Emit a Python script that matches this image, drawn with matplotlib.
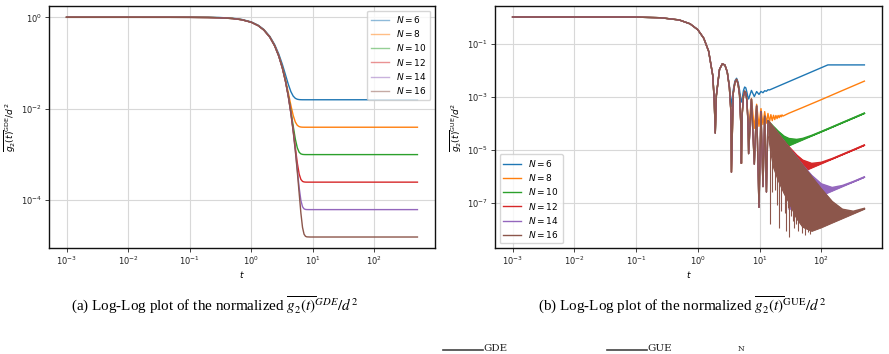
import numpy as np
import matplotlib
matplotlib.use("Agg")
import matplotlib.pyplot as plt
from matplotlib.lines import Line2D
from matplotlib.ticker import NullLocator

sizes = [6, 8, 10, 12, 14, 16]
colors = ["C0", "C1", "C2", "C3", "C4", "C5"]

# ---------- (a) GDE: common early decay, then a plateau for each N ----------
t_gde = [1e-3, 1e-2, 0.05, 0.1, 0.2, 0.3, 0.5, 0.7, 1.0, 1.3, 1.6, 2.0, 2.4, 2.8,
         3.2, 3.6, 4.0, 4.4, 4.8, 5.2, 5.6, 6.0, 6.4, 6.8, 7.2, 7.6, 8.0, 9.0,
         10.0, 20.0, 50.0, 100.0, 200.0, 500.0]
gde_decay = [1.0, 1.0, 0.9994, 0.9975, 0.990, 0.978, 0.939, 0.885, 0.779, 0.655,
             0.527, 0.368, 0.237, 0.141, 0.0773, 0.0392, 0.0183, 0.0079, 0.00315,
             0.00116, 3.94e-4, 1.23e-4, 3.57e-5, 9.6e-6, 2.35e-6, 5.4e-7, 1.1e-7,
             1.6e-9, 0, 0, 0, 0, 0, 0]
gde_plateau = [1.56e-2, 3.9e-3, 9.8e-4, 2.44e-4, 6.1e-5, 1.53e-5]

t_gue = [1e-3, 0.01, 0.05, 0.1, 0.25, 0.5, 0.75, 1.0, 1.25, 1.5, 1.75, 1.85, 1.92,
         2.0, 2.25, 2.5, 2.75, 3.0, 3.25, 3.45, 3.51, 3.75, 4.0, 4.25, 4.5, 4.75,
         5.0, 5.09, 5.25, 5.5, 5.75, 6.0, 6.25, 6.5, 6.66, 7.40, 8.24, 8.98, 9.81,
         10.56, 11.38, 12.13, 12.95, 13.71]
gue_shared = [1.0, 1.0, 0.9975, 0.990, 0.9394, 0.7748, 0.5534, 0.3326, 0.1582,
              0.0511, 0.00616, 6.8e-4, 4.2e-5, 1.09e-3, 0.01055, 0.01717, 0.0154,
              8.5e-3, 2.24e-3, 2.5e-4, 1.4e-6, 1.3e-3, 3.44e-3, 4.4e-3, 2.97e-3,
              1.15e-3, 7.6e-5, 3e-6, 2.26e-4, 1.03e-3, 1.58e-3, 1.39e-3, 7.0e-4,
              1.17e-4, 7e-6, 7.9e-4, 2.8e-6, 4.4e-4, 6.6e-8, 2.7e-4, 4e-7, 1.8e-4,
              2.5e-7, 1.24e-4]
# last shared time before each curve leaves the N=16 curve
gue_split = [3.0, 6.5, 13.71, 13.71, 13.71, 13.71]

# own parts of the curves
blue_t = [3.25, 3.45, 3.51, 3.75, 4.0, 4.25, 4.5, 4.75, 5.0, 5.09, 5.25, 5.5, 5.75,
          6.0, 6.25, 6.5, 6.66, 7.40, 8.24, 8.98, 9.81, 10.56, 11.38, 12.13, 12.95,
          13.71, 14.52, 20.0, 50.0, 128.0, 500.0]
blue_g = [2.6e-3, 6.7e-4, 4.3e-4, 1.76e-3, 3.9e-3, 4.9e-3, 3.5e-3, 1.73e-3, 6.9e-4,
          6.2e-4, 8.6e-4, 1.7e-3, 2.28e-3, 2.12e-3, 1.46e-3, 9.1e-4, 8.1e-4, 1.7e-3,
          1.0e-3, 1.54e-3, 1.2e-3, 1.56e-3, 1.39e-3, 1.66e-3, 1.58e-3, 1.8e-3,
          1.77e-3, 2.44e-3, 6.1e-3, 1.56e-2, 1.56e-2]
orange_t = [6.66, 7.40, 8.24, 8.98, 9.81, 10.56, 11.38, 12.13, 12.95, 13.71, 14.52,
            15.28, 16.09, 16.86, 17.67, 18.43, 19.24, 20.0, 20.81, 21.58, 22.38,
            23.15, 23.95, 30.0, 50.0, 100.0, 200.0, 500.0]
orange_g = [5.1e-5, 8.5e-4, 6.3e-5, 5.1e-4, 7.5e-5, 3.5e-4, 8.7e-5, 2.7e-4, 9.9e-5,
            2.3e-4, 1.11e-4, 2.07e-4, 1.23e-4, 1.96e-4, 1.35e-4, 1.92e-4, 1.47e-4,
            1.93e-4, 1.59e-4, 1.97e-4, 1.71e-4, 2.03e-4, 1.83e-4, 2.35e-4, 3.85e-4,
            7.6e-4, 1.53e-3, 3.81e-3]

# dense oscillation region drawn as filled bands (top / bottom edge)
green_band_t = [17, 20, 25, 30, 40, 50, 70, 100, 150, 220, 330, 500]
green_hi = [7.3e-5, 4.95e-5, 3.19e-5, 2.61e-5, 2.41e-5, 2.63e-5, 3.43e-5, 4.80e-5,
            7.16e-5, 1.05e-4, 1.57e-4, 2.38e-4]
green_lo = [8.1e-6, 9.5e-6, 1.19e-5, 1.43e-5, 1.91e-5, 2.38e-5, 3.34e-5, 4.77e-5,
            7.15e-5, 1.05e-4, 1.57e-4, 2.38e-4]
red_band_t = [25, 30, 40, 50, 70, 100, 150, 220, 330, 500]
red_hi = [2.07e-5, 1.27e-5, 6.2e-6, 4.0e-6, 3.0e-6, 3.3e-6, 4.56e-6, 6.6e-6, 9.8e-6,
          1.49e-5]
red_lo = [7.5e-7, 8.9e-7, 1.19e-6, 1.49e-6, 2.09e-6, 2.98e-6, 4.47e-6, 6.56e-6,
          9.83e-6, 1.49e-5]
purple_band_t = [30, 40, 50, 70, 100, 150, 220, 330, 500]
purple_hi = [1.19e-5, 5.07e-6, 2.6e-6, 1.06e-6, 5.1e-7, 3.7e-7, 4.4e-7, 6.2e-7, 9.3e-7]
purple_lo = [5.6e-8, 7.5e-8, 9.3e-8, 1.3e-7, 1.86e-7, 2.79e-7, 4.1e-7, 6.15e-7, 9.3e-7]
brown_band_t = [14, 15.5, 17, 20, 25, 30, 40, 50, 70, 100, 150, 220, 330, 500]
brown_hi = [1.16e-4, 8.6e-5, 6.5e-5, 4.0e-5, 2.0e-5, 1.18e-5, 5.0e-6, 2.55e-6, 9.4e-7,
            3.3e-7, 1.1e-7, 5.6e-8, 4.7e-8, 6.05e-8]
brown_lo = [3e-5, 6e-6, 2e-6, 7e-7, 2.2e-7, 1e-7, 2.5e-8, 1.2e-8, 8.5e-9, 1.16e-8,
            1.75e-8, 2.56e-8, 3.84e-8, 5.82e-8]

# deep single dips of the N=16 curve below the dense band
spike_t = [14.52, 16.09, 17.67, 19.24, 20.81, 22.38, 25.52, 27.09, 28.66, 30.23,
           31.81, 34.95, 36.52, 39.66, 42.80, 47.9, 54.2, 60.5, 66.8]
spike_lo = [1.6e-8, 2.5e-7, 3e-7, 8e-8, 1.1e-8, 5e-8, 4e-8, 8.7e-9, 6e-8, 5e-9,
            3e-8, 2e-8, 1.1e-8, 1.5e-8, 8.7e-9, 7e-9, 6e-9, 8e-9, 6.5e-9]
spike_hi = [1.6e-5, 4.5e-6, 1.6e-6, 9e-7, 5.5e-7, 4e-7, 2.5e-7, 1.8e-7, 1.3e-7, 1e-7,
            8e-8, 5e-8, 4e-8, 3e-8, 2.8e-8, 2e-8, 1.3e-8, 1.1e-8, 1e-8]


def style_axes(ax, ylabel, yticks):
    ax.set_xscale("log")
    ax.set_yscale("log")
    ax.set_xticks([1e-3, 1e-2, 1e-1, 1e0, 1e1, 1e2])
    ax.set_yticks(yticks)
    ax.xaxis.set_minor_locator(NullLocator())
    ax.yaxis.set_minor_locator(NullLocator())
    ax.grid(True, color="#d8d8d8", lw=0.8)
    ax.set_axisbelow(True)
    ax.tick_params(labelsize=6, length=3, width=0.6, pad=2, colors="#222222")
    for s in ax.spines.values():
        s.set_linewidth(1.0)
        s.set_color("#111111")
    ax.set_xlabel("$t$", fontsize=6.5, labelpad=1)
    ax.set_ylabel(ylabel, fontsize=6.5, labelpad=2)


fig = plt.figure(figsize=(8.89, 3.54), dpi=100)
ax1 = fig.add_axes([0.0551, 0.2994, 0.4342, 0.6836])
ax2 = fig.add_axes([0.5568, 0.2994, 0.4353, 0.6836])

# (a)
decay = np.array(gde_decay)
for n, c, p in zip(sizes, colors, gde_plateau):
    ax1.plot(t_gde, decay + p, color=c, lw=1.0, label=f"$N = {n}$")
style_axes(ax1, r"$\overline{g_2(t)}^{\mathrm{GDE}}/d^2$", [1e0, 1e-2, 1e-4])
leg1 = ax1.legend(loc="upper right", fontsize=6.5, handlelength=2.0,
                  borderpad=0.4, labelspacing=0.35, edgecolor="#cccccc")
for h in leg1.legend_handles:
    h.set_alpha(0.5)

# (b)
t_gue_a = np.array(t_gue)
g_gue_a = np.array(gue_shared)
tails = [
    (blue_t, blue_g, None),
    (orange_t, orange_g, None),
    (green_band_t, green_hi, (green_band_t, green_lo, green_hi)),
    (red_band_t, red_hi, (red_band_t, red_lo, red_hi)),
    (purple_band_t, purple_hi, (purple_band_t, purple_lo, purple_hi)),
    (brown_band_t, brown_hi, (brown_band_t, brown_lo, brown_hi)),
]
for i, (n, c) in enumerate(zip(sizes, colors)):
    z = 2 + i
    keep = t_gue_a <= gue_split[i]
    tt, gg, band = tails[i]
    ax2.plot(np.concatenate([t_gue_a[keep], tt]), np.concatenate([g_gue_a[keep], gg]),
             color=c, lw=1.0, label=f"$N = {n}$", zorder=z)
    if band is not None:
        bt, blo, bhi = band
        ax2.fill_between(bt, blo, bhi, color=c, lw=0.6, zorder=z)
        ax2.plot(bt, blo, color=c, lw=0.8, zorder=z)
ax2.vlines(spike_t, spike_lo, spike_hi, color="C5", lw=0.8, zorder=7)
style_axes(ax2, r"$\overline{g_2(t)}^{\mathrm{GUE}}/d^2$", [1e-1, 1e-3, 1e-5, 1e-7])
ax2.legend(loc="lower left", fontsize=6.5, handlelength=2.0,
           borderpad=0.4, labelspacing=0.35, edgecolor="#cccccc").set_zorder(10)

# captions
cap = dict(fontsize=10.9, family="Liberation Serif", math_fontfamily="stix",
           ha="center", va="center")
fig.text(0.241, 0.138, r"(a) Log-Log plot of the normalized $\overline{g_2(t)}^{GDE}/d^2$", **cap)
fig.text(0.767, 0.138, r"(b) Log-Log plot of the normalized $\overline{g_2(t)}^{\mathrm{GUE}}/d^2$", **cap)

# top of the next caption line at the page edge
for x0, x1, word in [(443, 483, "GDE"), (607, 647, "GUE")]:
    fig.add_artist(Line2D([x0 / 889, x1 / 889], [1 - 350 / 354] * 2,
                          transform=fig.transFigure, color="#444444", lw=1.2))
    fig.text(x1 / 889, 0.004, word, fontsize=7.5, family="DejaVu Serif",
             va="bottom", ha="left", color="#222222")
fig.text(738 / 889, 0.004, "N", fontsize=5.5, family="DejaVu Serif",
         va="bottom", ha="left", color="#222222")

fig.savefig("out.png", dpi=100)
